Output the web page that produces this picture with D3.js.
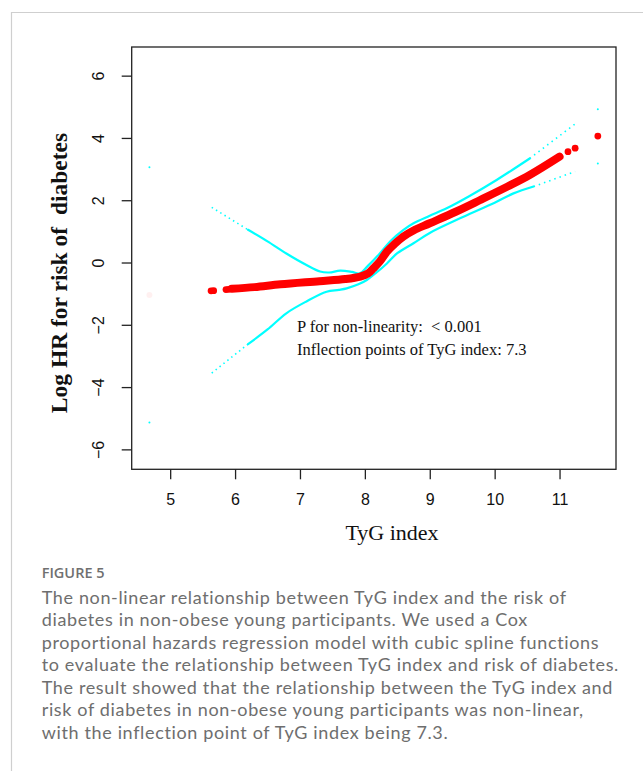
<!DOCTYPE html>
<html><head><meta charset="utf-8">
<script src="https://cdn.jsdelivr.net/npm/d3@7"></script>
<style>body{margin:0;background:#fff}svg{display:block} text{white-space:pre}</style>
</head><body>
<script>
// ---- data ----
const xTicks = [5, 6, 7, 8, 9, 10, 11];
const yTicks = [-6, -4, -2, 0, 2, 4, 6];

// estimate (red): continuous part
const estX = [5.95, 6.3, 6.7, 7.3, 7.7, 7.93, 8.05, 8.13, 8.23, 8.34, 8.45, 8.59, 8.75, 9.0, 9.4, 9.77, 10.2, 10.54, 11.0];
const estY = [-0.84, -0.79, -0.70, -0.60, -0.53, -0.45, -0.35, -0.19, 0.03, 0.35, 0.58, 0.83, 1.03, 1.26, 1.63, 2.0, 2.44, 2.81, 3.40];
// estimate (red): isolated points
const estDotX = [5.63, 5.67, 5.86, 5.90, 11.13, 11.24, 11.59];
const estDotY = [-0.91, -0.905, -0.87, -0.86, 3.56, 3.67, 4.06];
const estFaintX = [4.68];
const estFaintY = [-1.04];

// upper CI (cyan)
const upX = [6.2, 6.5, 6.79, 7.1, 7.31, 7.45, 7.62, 7.8, 7.92, 8.05, 8.23, 8.4, 8.59, 8.75, 9.0, 9.26, 9.6, 10.03, 10.54];
const upY = [1.05, 0.68, 0.29, -0.08, -0.29, -0.32, -0.26, -0.30, -0.35, -0.10, 0.29, 0.70, 1.04, 1.26, 1.50, 1.74, 2.12, 2.65, 3.34];
const upSparseLX = [5.64, 6.2];
const upSparseLY = [1.77, 1.05];
const upSparseRX = [10.54, 11.24];
const upSparseRY = [3.34, 4.45];
const upDotX = [4.68, 11.59];
const upDotY = [3.06, 4.92];

// lower CI (cyan)
const loX = [6.2, 6.5, 6.79, 7.1, 7.41, 7.6, 7.72, 7.9, 8.03, 8.18, 8.34, 8.5, 8.75, 9.0, 9.52, 10.0, 10.29, 10.6];
const loY = [-2.62, -2.15, -1.63, -1.25, -0.94, -0.88, -0.83, -0.70, -0.56, -0.32, -0.03, 0.30, 0.62, 0.95, 1.47, 1.92, 2.22, 2.44];
const loSparseLX = [5.64, 6.2];
const loSparseLY = [-3.55, -2.62];
const loSparseRX = [10.6, 11.24];
const loSparseRY = [2.44, 2.92];
const loDotX = [4.68, 11.59];
const loDotY = [-5.14, 3.18];

const xLabel = "TyG index";
const yLabel = "Log HR for risk of  diabetes";
const annot = ["P for non-linearity:  < 0.001", "Inflection points of TyG index: 7.3"];
const figLabel = "FIGURE 5";
const caption = [
  "The non-linear relationship between TyG index and the risk of",
  "diabetes in non-obese young participants. We used a Cox",
  "proportional hazards regression model with cubic spline functions",
  "to evaluate the relationship between TyG index and risk of diabetes.",
  "The result showed that the relationship between the TyG index and",
  "risk of diabetes in non-obese young participants was non-linear,",
  "with the inflection point of TyG index being 7.3."
];

// ---- drawing ----
(function () {
const W = 643, H = 771;
const svg = d3.select("body").append("svg").attr("width", W).attr("height", H);
svg.append("rect").attr("width", W).attr("height", H).attr("fill", "#fff");

// card border
svg.append("path").attr("d", `M11.5,${H} V12.5 H${W}`).attr("fill", "none").attr("stroke", "#cfcfcf").attr("stroke-width", 1.2);

const pL = 131.7, pR = 616, pT = 47, pB = 469.3;
const x = d3.scaleLinear().domain([4.407, 11.87]).range([pL, pR]);
const y = d3.scaleLinear().domain([-6.64, 6.92]).range([pB, pT]);

const zip = (a, b) => a.map((v, i) => [v, b[i]]);
const line = d3.line().x(d => x(d[0])).y(d => y(d[1])).curve(d3.curveCatmullRom.alpha(0.5));
const seg = d3.line().x(d => x(d[0])).y(d => y(d[1]));

const plot = svg.append("g");
const cyan = "#00FFFF";
plot.append("path").attr("d", line(zip(upX, upY))).attr("fill", "none").attr("stroke", cyan).attr("stroke-width", 2.2).attr("stroke-linecap", "round");
plot.append("path").attr("d", line(zip(loX, loY))).attr("fill", "none").attr("stroke", cyan).attr("stroke-width", 2.2).attr("stroke-linecap", "round");
[[upSparseLX, upSparseLY, "1.5,3.5"], [loSparseLX, loSparseLY, "1.5,3.5"], [upSparseRX, upSparseRY, "1.5,4"], [loSparseRX, loSparseRY, "1.5,4"]].forEach(([a, b, da]) => {
  plot.append("path").attr("d", seg(zip(a, b))).attr("fill", "none").attr("stroke", cyan).attr("stroke-width", 1.6).attr("stroke-dasharray", da);
});
plot.selectAll(".cidot").data(zip(upDotX.concat(loDotX), upDotY.concat(loDotY))).enter().append("circle")
  .attr("cx", d => x(d[0])).attr("cy", d => y(d[1])).attr("r", 1).attr("fill", cyan);

plot.append("path").attr("d", line(zip(estX, estY))).attr("fill", "none").attr("stroke", "#FF0000").attr("stroke-width", 8).attr("stroke-linecap", "round").attr("stroke-linejoin", "round");
plot.selectAll(".edot").data(zip(estDotX, estDotY)).enter().append("circle")
  .attr("cx", d => x(d[0])).attr("cy", d => y(d[1])).attr("r", 3.4).attr("fill", "#FF0000");
plot.selectAll(".fdot").data(zip(estFaintX, estFaintY)).enter().append("circle")
  .attr("cx", d => x(d[0])).attr("cy", d => y(d[1])).attr("r", 3).attr("fill", "#FF0000").attr("opacity", 0.06);

svg.append("rect").attr("x", pL).attr("y", pT).attr("width", pR - pL).attr("height", pB - pT)
  .attr("fill", "none").attr("stroke", "#222").attr("stroke-width", 1.3);

const tickFont = "'Liberation Sans', Arial, sans-serif";
const xAxis = svg.append("g").attr("transform", `translate(0,${pB})`)
  .call(d3.axisBottom(x).tickValues(xTicks).tickSize(10).tickPadding(14).tickFormat(d3.format("d")));
xAxis.select(".domain").remove();
xAxis.selectAll("line").attr("stroke", "#222").attr("stroke-width", 1.3);
xAxis.selectAll("text").style("font-family", tickFont).style("font-size", "16px").attr("fill", "#111");

const yAxis = svg.append("g").attr("transform", `translate(${pL},0)`)
  .call(d3.axisLeft(y).tickValues(yTicks).tickSize(10).tickFormat(d => d < 0 ? "\u2212" + Math.abs(d) : d));
yAxis.select(".domain").remove();
yAxis.selectAll("line").attr("stroke", "#222").attr("stroke-width", 1.3);
yAxis.selectAll("text").style("font-family", tickFont).style("font-size", "16px").attr("fill", "#111")
  .attr("x", 0).attr("y", 0).attr("text-anchor", "middle").attr("dy", "0.35em")
  .attr("transform", "translate(-33,0) rotate(-90)");

const serif = "'Liberation Serif', 'Times New Roman', serif";
svg.append("text").attr("x", 392).attr("y", 540).attr("text-anchor", "middle")
  .style("font-family", serif).style("font-size", "22px").attr("fill", "#111").text(xLabel);
svg.append("text").attr("transform", "translate(67,273) rotate(-90)").attr("text-anchor", "middle")
  .style("font-family", serif).style("font-weight", "bold").style("font-size", "23.5px").attr("fill", "#111").text(yLabel);

annot.forEach((t, i) => {
  svg.append("text").attr("x", 297).attr("y", 331.5 + i * 23.5)
    .style("font-family", serif).style("font-size", "16.5px").attr("fill", "#111").text(t);
});

const capFont = "Lato, 'Open Sans', sans-serif";
svg.append("text").attr("x", 41.7).attr("y", 578.3).style("font-family", "'Open Sans', sans-serif").style("font-weight", 600)
  .style("font-size", "14.5px").attr("fill", "#707070").text(figLabel);
const capG = svg.append("g");
const capTexts = caption.map((t, i) => capG.append("text").attr("x", 41.7).attr("y", 603.5 + i * 22.5)
  .style("font-family", capFont).style("font-size", "18px").attr("fill", "#6e6e6e").text(t));
// letter-spacing so the widest line spans the measured 577px
const w4 = capTexts[3].node().getComputedTextLength();
const ls = (577 - w4) / (caption[3].length - 1);
capTexts.forEach(t => t.style("letter-spacing", ls + "px"));
})();
</script>
</body></html>
